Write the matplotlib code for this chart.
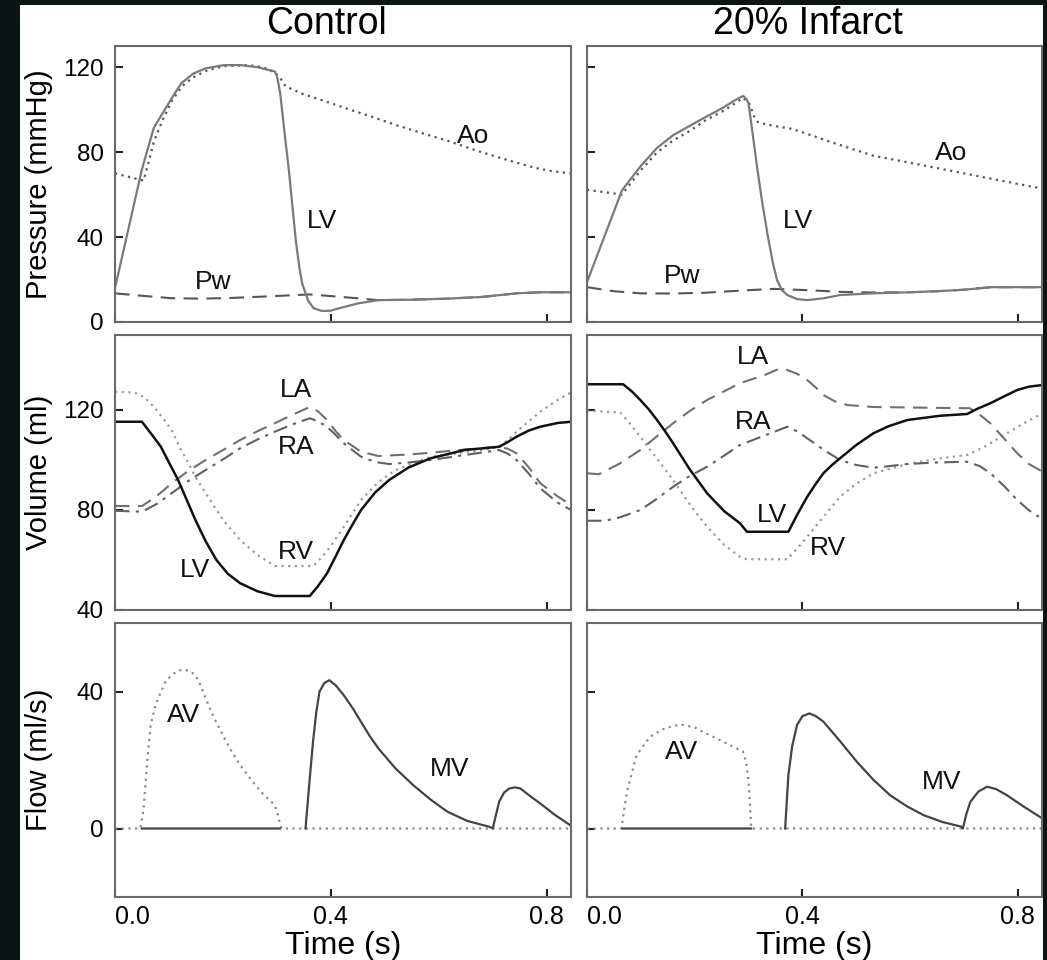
import numpy as np
import matplotlib.pyplot as plt
from matplotlib.patches import Rectangle

plt.rcParams['font.family'] = ['Liberation Sans', 'DejaVu Sans']

# ---- Pressure, control ----
t_plv_c = [0, 0.050, 0.072, 0.091, 0.109, 0.123, 0.145, 0.168, 0.202, 0.233, 0.264, 0.296, 0.300, 0.306,
           0.316, 0.322, 0.335, 0.342, 0.347, 0.358, 0.368, 0.383, 0.399, 0.420, 0.451, 0.488, 0.55, 0.616,
           0.68, 0.744, 0.787, 0.845]
p_lv_c = [16, 72, 91.5, 99.5, 107, 112.5, 117, 119.5, 121, 121, 120, 118, 116, 108,
          85, 72, 38.5, 25, 18, 10, 6.5, 5.2, 5.3, 6.8, 8.8, 10.3, 10.5, 11,
          11.8, 13.5, 14, 14]
t_ao_c = [0, 0.053, 0.062, 0.072, 0.088, 0.105, 0.124, 0.143, 0.171, 0.201, 0.247, 0.275, 0.296, 0.306,
          0.316, 0.347, 0.389, 0.424, 0.472, 0.524, 0.575, 0.616, 0.679, 0.731, 0.777, 0.81, 0.845]
p_ao_c = [70, 66.6, 75, 85, 95, 104, 111, 115, 118.5, 120.5, 121, 120, 117.5, 115,
          111, 107.5, 104, 101, 97, 92.5, 88.5, 85.4, 80, 76, 72.7, 71, 70]
t_pw_c = [0, 0.057, 0.105, 0.161, 0.212, 0.295, 0.361, 0.420, 0.488, 0.55, 0.616, 0.68, 0.744, 0.787, 0.845]
p_pw_c = [13.5, 12.2, 11.2, 11, 11.3, 12.2, 13, 11.8, 10.3, 10.5, 11, 11.8, 13.5, 14, 14]

# ---- Pressure, 20% infarct ----
t_plv_i = [0, 0.065, 0.08, 0.1, 0.13, 0.16, 0.191, 0.22, 0.253, 0.275, 0.29, 0.296, 0.3, 0.308, 0.316,
           0.325, 0.335, 0.345, 0.353, 0.362, 0.372, 0.39, 0.409, 0.44, 0.47, 0.53, 0.6, 0.65, 0.7,
           0.75, 0.8, 0.846]
p_lv_i = [18.8, 62, 67, 73.5, 82, 88, 92.4, 96.5, 101, 104.5, 106.5, 105, 103, 88, 72.7,
          57, 41.7, 28, 19.7, 15, 12.7, 10.8, 10.3, 11.2, 12.7, 13.5, 14, 14.5, 15.2,
          16.4, 16.4, 16.4]
t_ao_i = [0, 0.065, 0.08, 0.1, 0.13, 0.16, 0.191, 0.22, 0.253, 0.275, 0.29, 0.302, 0.31, 0.318, 0.346,
          0.38, 0.409, 0.45, 0.532, 0.6, 0.656, 0.75, 0.846]
p_ao_i = [62.3, 60, 65, 71.5, 79.9, 85.5, 90, 95, 99.4, 103, 105.6, 102.6, 97, 94, 92.4,
          91, 88.6, 85, 78.3, 75, 72.2, 67.5, 62.8]
t_pw_i = [0, 0.05, 0.1, 0.16, 0.22, 0.3, 0.347, 0.409, 0.47, 0.53, 0.6, 0.65, 0.7, 0.75, 0.846]
p_pw_i = [16.4, 14.5, 13.5, 13.4, 13.8, 15, 15.6, 15, 14.2, 13.9, 14, 14.5, 15.2, 16.4, 16.4]

# ---- Volume, control ----
t_vlv_c = [0, 0.050, 0.067, 0.085, 0.100, 0.117, 0.133, 0.149, 0.168, 0.188, 0.209, 0.232, 0.264, 0.296,
           0.361, 0.376, 0.393, 0.409, 0.424, 0.441, 0.456, 0.482, 0.508, 0.544, 0.585, 0.648, 0.712,
           0.728, 0.744, 0.767, 0.788, 0.82, 0.845]
v_lv_c = [115.3, 115.3, 110.5, 105.3, 99, 92, 84, 76, 67.5, 60, 54.5, 50.7, 47.5, 45.6,
          45.6, 49.5, 54.7, 61.5, 68, 74.5, 80, 87, 92, 97, 100.7, 104, 105.3,
          107.2, 109.3, 111.8, 113.3, 114.8, 115.3]
t_vrv_c = [0, 0.036, 0.055, 0.072, 0.088, 0.105, 0.119, 0.136, 0.151, 0.168, 0.202, 0.232, 0.264, 0.296,
           0.367, 0.383, 0.399, 0.424, 0.441, 0.456, 0.487, 0.520, 0.585, 0.680, 0.712, 0.728, 0.744,
           0.767, 0.788, 0.82, 0.845]
v_rv_c = [127.3, 127, 125, 121.3, 117, 112, 105.5, 98.7, 92.5, 86.7, 75.5, 68, 62, 57.6,
          57.6, 61, 65.3, 73.3, 79, 84, 91, 96, 101.3, 104, 105.3, 108, 111.3,
          115.5, 119.3, 124, 127]
t_vla_c = [0, 0.050, 0.072, 0.088, 0.105, 0.135, 0.168, 0.202, 0.232, 0.264, 0.296, 0.326, 0.361, 0.376,
           0.393, 0.409, 0.424, 0.441, 0.456, 0.488, 0.544, 0.585, 0.648, 0.712, 0.728, 0.744, 0.767,
           0.788, 0.82, 0.845]
v_la_c = [81.6, 81.6, 84.7, 87.5, 90.7, 95.5, 100, 104.2, 108, 111.5, 114.7, 117.8, 121.2, 119.5,
          116, 111.5, 108, 105.5, 103.3, 101.6, 102.2, 102.9, 104.2, 105.3, 104.5, 102.7, 97,
          90.7, 85.5, 82]
t_vra_c = [0, 0.050, 0.078, 0.105, 0.135, 0.168, 0.202, 0.232, 0.264, 0.296, 0.326, 0.361, 0.376, 0.393,
           0.409, 0.424, 0.441, 0.456, 0.482, 0.508, 0.544, 0.585, 0.648, 0.712, 0.728, 0.744, 0.767,
           0.788, 0.82, 0.845]
v_ra_c = [79.7, 79.3, 82.5, 86.7, 91.5, 96, 100.5, 104.7, 108.2, 111.3, 114, 116.7, 115.5, 113.3,
          110, 106.7, 103.8, 101.3, 99.2, 98.4, 99, 100, 102, 104, 102.5, 100, 94.5,
          88.7, 83, 80]

# ---- Volume, 20% infarct ----
t_vlv_i = [0, 0.067, 0.083, 0.099, 0.115, 0.13, 0.145, 0.16, 0.19, 0.223, 0.255, 0.284, 0.297, 0.374,
           0.39, 0.409, 0.425, 0.439, 0.455, 0.47, 0.5, 0.532, 0.56, 0.595, 0.656, 0.706, 0.725,
           0.749, 0.775, 0.799, 0.82, 0.846]
v_lv_i = [130.3, 130.3, 127.5, 124, 120.2, 116, 111.5, 106.7, 96.5, 86.7, 79.5, 74.7, 71.3, 71.3,
          78, 85.3, 90.5, 94.7, 98, 100.7, 106, 110.7, 113.5, 116, 117.7, 118.4, 120.5,
          122.7, 125.5, 128, 129.3, 130]
t_vrv_i = [0, 0.062, 0.08, 0.099, 0.13, 0.16, 0.19, 0.223, 0.255, 0.284, 0.297, 0.372, 0.39, 0.409,
           0.44, 0.47, 0.5, 0.532, 0.595, 0.65, 0.706, 0.74, 0.78, 0.81, 0.846]
v_rv_i = [119.7, 119, 114.5, 109.3, 100.5, 92, 82.5, 73.3, 66, 61.3, 60.3, 60.3, 64.5, 69.3,
          77.5, 85.3, 90.5, 94.7, 98.4, 100.5, 102, 105.5, 110.7, 114.5, 118.7]
t_vla_i = [0, 0.022, 0.06, 0.099, 0.13, 0.16, 0.19, 0.223, 0.255, 0.284, 0.33, 0.355, 0.368, 0.39,
           0.409, 0.425, 0.439, 0.46, 0.483, 0.532, 0.6, 0.711, 0.73, 0.749, 0.775, 0.799, 0.82, 0.846]
v_la_i = [94.7, 94.3, 98.5, 104, 109.5, 114.7, 119.5, 124, 127.5, 130.7, 134, 136.3, 136.3, 134.5,
          132, 129, 126, 123.5, 122, 121.2, 121, 120.7, 118, 114.7, 108.5, 102.7, 98.5, 95.3]
t_vra_i = [0, 0.034, 0.06, 0.099, 0.13, 0.16, 0.19, 0.223, 0.255, 0.284, 0.33, 0.372, 0.39, 0.409,
           0.44, 0.47, 0.5, 0.532, 0.56, 0.595, 0.65, 0.706, 0.73, 0.749, 0.775, 0.799, 0.82, 0.846]
v_ra_i = [75.7, 75.7, 77, 80, 84.5, 89.3, 93.5, 97.3, 101.8, 106, 109.8, 113.3, 111.5, 108.7,
          104, 100, 98, 96.9, 97.5, 98.4, 99, 99.3, 97.5, 94.7, 89.5, 84, 80, 76.3]

# ---- Flow, control (nan = gap in the trace) ----
t_av_c = [0, 0.047, 0.053, 0.059, 0.066, 0.075, 0.085, 0.094, 0.105, 0.116, 0.126, 0.138, 0.149, 0.158,
          0.168, 0.183, 0.200, 0.216, 0.232, 0.251, 0.270, 0.285, 0.296, 0.302, 0.306, 0.309, 0.845]
f_av_c = [0, 0, 5.8, 18, 30.2, 36, 39.9, 43, 44.8, 46, 46.4, 46, 44.8, 42,
          38, 32.5, 27.2, 22.5, 18.5, 14.5, 10.8, 8.5, 6.8, 4, 1, 0, 0]
t_mv_c = [0.050, 0.306, np.nan, 0.353, 0.360, 0.367, 0.373, 0.379, 0.388, 0.397, 0.409, 0.424, 0.441,
          0.456, 0.472, 0.488, 0.520, 0.553, 0.586, 0.616, 0.653, 0.694, 0.700, 0.706, 0.712, 0.721,
          0.731, 0.741, 0.751, 0.769, 0.788, 0.815, 0.845]
f_mv_c = [0, 0, np.nan, 0, 13, 25.4, 34, 40, 42.5, 43.3, 41.8, 38.9, 35,
          31.1, 27, 23.4, 17.5, 12.6, 8.3, 4.9, 2.2, 0.5, 0, 4, 7.9, 10.5,
          11.7, 12, 11.7, 9.5, 7.3, 4, 0.8]

# ---- Flow, 20% infarct ----
t_av_i = [0, 0.064, 0.074, 0.092, 0.117, 0.145, 0.173, 0.2, 0.222, 0.26, 0.29, 0.296, 0.3, 0.303,
          0.305, 0.846]
f_av_i = [0, 0, 10.7, 21.4, 26.8, 29.3, 30.4, 29.5, 27.7, 24.8, 22.4, 19, 13.6, 6,
          0, 0]
t_mv_i = [0.066, 0.305, np.nan, 0.368, 0.374, 0.381, 0.39, 0.4, 0.413, 0.425, 0.439, 0.47, 0.501,
          0.532, 0.563, 0.594, 0.625, 0.66, 0.696, 0.698, 0.705, 0.712, 0.727, 0.743, 0.76, 0.78,
          0.81, 0.846]
f_mv_i = [0, 0, np.nan, 0, 15.6, 24, 30.2, 32.8, 33.6, 32.8, 31.2, 25.5, 19.5,
          14.2, 9.7, 6.5, 3.9, 1.9, 0.5, 0, 4.5, 7.8, 10.8, 12.2, 11.5, 9.7,
          6.5, 2.9]

col_titles = ['Control', '20% Infarct']

dotted = (0, (1, 2))
dashed = (0, (7, 4))
dashdot = (0, (7, 3, 1.5, 3))

fig = plt.figure(figsize=(10.47, 9.6), dpi=100, facecolor='#0c1414')
# white sheet behind the panels
fig.patches.append(Rectangle((20 / 1047, 0), 1023 / 1047, 955 / 960, transform=fig.transFigure,
                             facecolor='white', edgecolor='none', zorder=-10))

lefts = [115 / 1047, 587 / 1047]
widths = [456 / 1047, 455 / 1047]
rows = [(638 / 960, 276 / 960), (350 / 960, 275 / 960), (63 / 960, 274 / 960)]

axes = [[fig.add_axes([lefts[c], rows[r][0], widths[c], rows[r][1]]) for c in range(2)] for r in range(3)]

ylims = [(0, 130), (40, 150), (-20, 60)]
yticks = [[0, 40, 80, 120], [40, 80, 120], [0, 40]]
ylabels = ['Pressure (mmHg)', 'Volume (ml)', 'Flow (ml/s)']

for r in range(3):
    for c in range(2):
        ax = axes[r][c]
        ax.set_xlim(0, 0.845)
        ax.set_ylim(*ylims[r])
        ax.set_xticks([0, 0.4, 0.8])
        ax.set_yticks(yticks[r])
        ax.tick_params(direction='in', length=6, width=1.5, color='#222222',
                       labelsize=17.5, pad=8)
        ax.tick_params(axis='x', labelsize=18, pad=6)
        for s in ax.spines.values():
            s.set_color('#6a6a6a')
            s.set_linewidth(1.5)
        if r < 2:
            ax.set_xticklabels([])
        else:
            ax.set_xticklabels(['0.0', '0.4', '0.8'])
            ax.get_xticklabels()[0].set_horizontalalignment('left')
            ax.set_xlabel('Time (s)', fontsize=23)
            ax.xaxis.set_label_coords(0.5, -0.125)
        if c == 1:
            ax.set_yticklabels([])
        else:
            ax.set_ylabel(ylabels[r], fontsize=21)
            ax.yaxis.set_label_coords(-0.136, 0.5)

for c in range(2):
    fig.text([326 / 1047, 808 / 1047][c], 1 - 24 / 960, col_titles[c], fontsize=27,
             ha='center', va='center')

ann = dict(fontsize=19, ha='center', va='center', color='#111111')

# Pressure panels
ax = axes[0][0]
ax.plot(t_ao_c, p_ao_c, color='#555555', lw=1.6, ls=dotted)
ax.plot(t_pw_c, p_pw_c, color='#555555', lw=1.5, ls=dashed)
ax.plot(t_plv_c, p_lv_c, color='#7a7a7a', lw=1.6)
ax.text(0.664, 87.7, 'Ao', **ann)
ax.text(0.383, 47.8, 'LV', **ann)
ax.text(0.181, 18.8, 'Pw', **ann)

ax = axes[0][1]
ax.plot(t_ao_i, p_ao_i, color='#555555', lw=1.6, ls=dotted)
ax.plot(t_pw_i, p_pw_i, color='#555555', lw=1.5, ls=dashed)
ax.plot(t_plv_i, p_lv_i, color='#7a7a7a', lw=1.6)
ax.text(0.677, 79.8, 'Ao', **ann)
ax.text(0.391, 47.8, 'LV', **ann)
ax.text(0.176, 21.6, 'Pw', **ann)

# Volume panels
ax = axes[1][0]
ax.plot(t_vrv_c, v_rv_c, color='#9a9a9a', lw=1.6, ls=dotted)
ax.plot(t_vla_c, v_la_c, color='#707070', lw=1.5, ls=dashed)
ax.plot(t_vra_c, v_ra_c, color='#606060', lw=1.5, ls=dashdot)
ax.plot(t_vlv_c, v_lv_c, color='#111111', lw=1.8)
ax.text(0.335, 128, 'LA', **ann)
ax.text(0.335, 105.3, 'RA', **ann)
ax.text(0.335, 63.3, 'RV', **ann)
ax.text(0.149, 56, 'LV', **ann)

ax = axes[1][1]
ax.plot(t_vrv_i, v_rv_i, color='#9a9a9a', lw=1.6, ls=dotted)
ax.plot(t_vla_i, v_la_i, color='#707070', lw=1.5, ls=dashed)
ax.plot(t_vra_i, v_ra_i, color='#606060', lw=1.5, ls=dashdot)
ax.plot(t_vlv_i, v_lv_i, color='#111111', lw=1.8)
ax.text(0.309, 141.3, 'LA', **ann)
ax.text(0.309, 115.3, 'RA', **ann)
ax.text(0.344, 78, 'LV', **ann)
ax.text(0.448, 64.7, 'RV', **ann)

# Flow panels
ax = axes[2][0]
ax.plot(t_av_c, f_av_c, color='#8a8a8a', lw=1.6, ls=dotted)
ax.plot(t_mv_c, f_mv_c, color='#444444', lw=1.6)
ax.text(0.127, 33, 'AV', **ann)
ax.text(0.62, 17.5, 'MV', **ann)

ax = axes[2][1]
ax.plot(t_av_i, f_av_i, color='#8a8a8a', lw=1.6, ls=dotted)
ax.plot(t_mv_i, f_mv_i, color='#444444', lw=1.6)
ax.text(0.176, 22.4, 'AV', **ann)
ax.text(0.659, 13.6, 'MV', **ann)

fig.savefig('out.png', dpi=100, facecolor=fig.get_facecolor())
